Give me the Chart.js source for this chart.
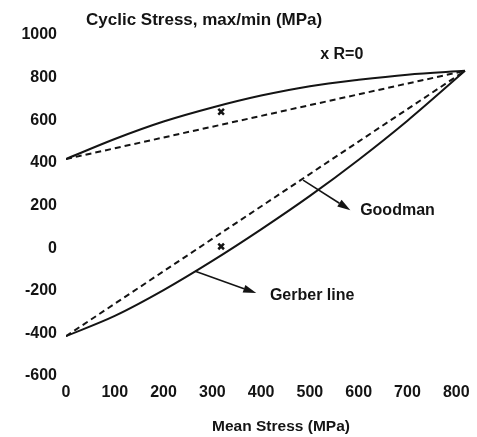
<!DOCTYPE html>
<html><head><meta charset="utf-8">
<script src="https://cdn.jsdelivr.net/npm/chart.js@4/dist/chart.umd.min.js"></script>
<style>html,body{margin:0;padding:0;background:#fff;}</style>
</head><body>
<canvas id="c" width="477" height="437"></canvas>
<script>
// ---- data ----
const meanStress = [0, 100, 200, 300, 400, 500, 600, 700, 818];
const gerberMax  = [418, 512, 594, 660, 716, 760, 790, 814, 832];
const gerberMin  = [-413, -318, -197, -60, 88, 245, 415, 598, 832];
const goodmanMean = [0, 818];
const goodmanMax  = [418, 832];
const goodmanMin  = [-413, 832];
const rZeroMean   = [318, 318];
const rZeroStress = [640, 8];
const xTickValues = [0, 100, 200, 300, 400, 500, 600, 700, 800];
const yTickValues = [-600, -400, -200, 0, 200, 400, 600, 800, 1000];
const titleText = 'Cyclic Stress, max/min (MPa)';
const xTitleText = 'Mean Stress (MPa)';
const rLabel = { text: 'x R=0', x: 521, y: 906 };
const goodmanNote = { text: 'Goodman', from: [486, 319], to: [583, 178], label: [603, 174] };
const gerberNote  = { text: 'Gerber line', from: [265, -108], to: [390, -211], label: [418, -221] };

const INK = '#141414';
const FONT = '"Liberation Sans", Arial, sans-serif';

const pts = (xs, ys) => xs.map((x, i) => ({ x, y: ys[i] }));

const annot = {
  id: 'annot',
  afterDatasetsDraw(chart) {
    const { ctx, chartArea, scales: { x, y } } = chart;
    ctx.save();
    ctx.fillStyle = INK;
    ctx.strokeStyle = INK;
    ctx.textBaseline = 'middle';
    ctx.textAlign = 'left';
    ctx.font = 'bold 17px ' + FONT;
    ctx.fillText(titleText, chartArea.left + 20, 20);
    ctx.font = 'bold 15.5px ' + FONT;
    ctx.textAlign = 'center';
    ctx.fillText(xTitleText, 281, 427);
    ctx.textAlign = 'left';
    ctx.font = 'bold 16px ' + FONT;
    ctx.fillText(rLabel.text, x.getPixelForValue(rLabel.x), y.getPixelForValue(rLabel.y));
    [goodmanNote, gerberNote].forEach(n => {
      const x0 = x.getPixelForValue(n.from[0]), y0 = y.getPixelForValue(n.from[1]);
      const x1 = x.getPixelForValue(n.to[0]), y1 = y.getPixelForValue(n.to[1]);
      const ang = Math.atan2(y1 - y0, x1 - x0);
      const L = 13, W = 4;
      const bx = x1 - L * Math.cos(ang), by = y1 - L * Math.sin(ang);
      ctx.lineWidth = 1.6;
      ctx.beginPath(); ctx.moveTo(x0, y0); ctx.lineTo(bx, by); ctx.stroke();
      ctx.beginPath();
      ctx.moveTo(x1, y1);
      ctx.lineTo(bx + W * Math.sin(ang), by - W * Math.cos(ang));
      ctx.lineTo(bx - W * Math.sin(ang), by + W * Math.cos(ang));
      ctx.closePath(); ctx.fill();
      ctx.font = 'bold 16px ' + FONT;
      ctx.fillText(n.text, x.getPixelForValue(n.label[0]), y.getPixelForValue(n.label[1]));
    });
    ctx.restore();
  }
};

new Chart(document.getElementById('c'), {
  type: 'scatter',
  data: {
    datasets: [
      { data: pts(meanStress, gerberMax), showLine: true, borderColor: INK, borderWidth: 2, pointRadius: 0, cubicInterpolationMode: 'monotone' },
      { data: pts(meanStress, gerberMin), showLine: true, borderColor: INK, borderWidth: 2, pointRadius: 0, cubicInterpolationMode: 'monotone' },
      { data: pts(goodmanMean, goodmanMax), showLine: true, borderColor: INK, borderWidth: 2, borderDash: [6, 4], pointRadius: 0 },
      { data: pts(goodmanMean, goodmanMin), showLine: true, borderColor: INK, borderWidth: 2, borderDash: [6, 4], pointRadius: 0 },
      { data: pts(rZeroMean, rZeroStress), showLine: false, pointStyle: 'crossRot', pointRadius: 4, borderColor: INK, borderWidth: 2.5 }
    ]
  },
  options: {
    responsive: false,
    animation: false,
    devicePixelRatio: 1,
    layout: { padding: { top: 35, right: 11, bottom: 0, left: 0 } },
    plugins: { legend: { display: false }, tooltip: { enabled: false }, title: { display: false } },
    scales: {
      x: {
        type: 'linear', min: 0, max: 820,
        grid: { display: false, drawTicks: false }, border: { display: false },
        afterBuildTicks: s => { s.ticks = xTickValues.map(v => ({ value: v })); },
        afterFit: s => { s.height = 61; },
        ticks: { padding: 7, color: INK, font: { family: FONT, size: 16, weight: 'bold' }, maxRotation: 0, autoSkip: false, callback: v => String(v) }
      },
      y: {
        type: 'linear', min: -600, max: 1000,
        grid: { display: false, drawTicks: false }, border: { display: false },
        afterBuildTicks: s => { s.ticks = yTickValues.map(v => ({ value: v })); },
        afterFit: s => { s.width = 66; },
        ticks: { padding: 9, color: INK, font: { family: FONT, size: 16, weight: 'bold' }, autoSkip: false, callback: v => String(v) }
      }
    }
  },
  plugins: [annot]
});
</script>
</body></html>
